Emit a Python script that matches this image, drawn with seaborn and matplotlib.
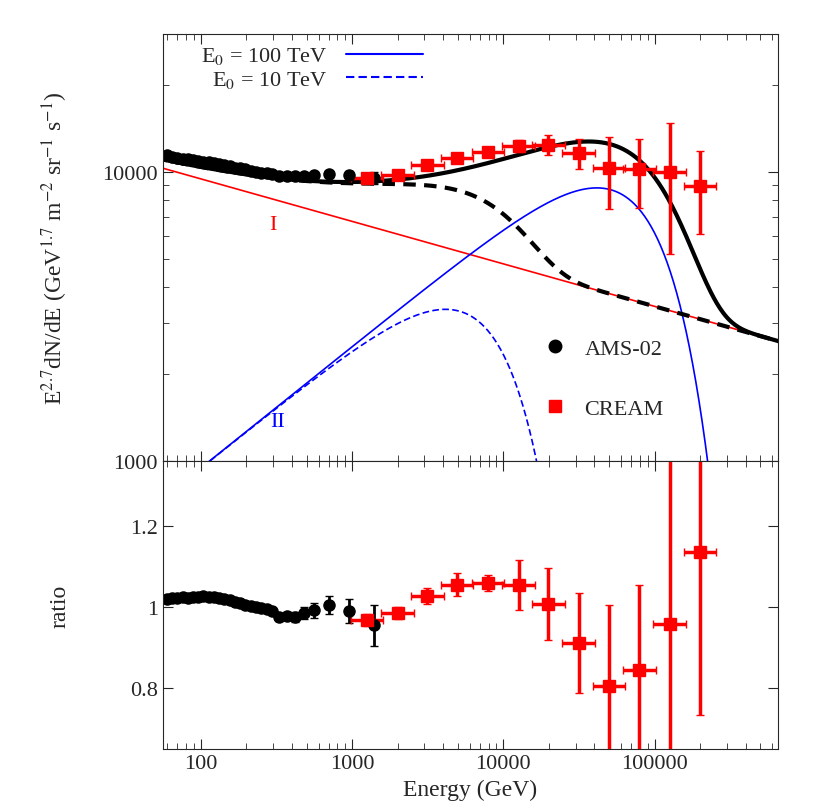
import numpy as np
import pandas as pd
import matplotlib
matplotlib.use("Agg")
import matplotlib.pyplot as plt
import seaborn as sns
from matplotlib.lines import Line2D
from matplotlib.ticker import FixedLocator, NullFormatter

# AMS-02 data (flux and ratio to model)
ams_e = [60, 65, 70, 76, 82, 89, 96, 104, 113, 122, 132, 143, 155, 168, 182, 197,
         214, 231, 251, 272, 295, 330, 370, 420, 480, 560, 700, 950, 1400]
ams_flux = [11400, 11300, 11200, 11100, 11050, 10950, 10900, 10850, 10800, 10700, 10650,
            10550, 10450, 10350, 10300, 10200, 10100, 10000, 9950, 9900, 9850, 9700,
            9700, 9650, 9700, 9750, 9800, 9750, 9550]
ams_ratio = [1.02, 1.022, 1.022, 1.024, 1.022, 1.024, 1.026, 1.028, 1.026, 1.024, 1.022,
             1.02, 1.018, 1.012, 1.01, 1.006, 1.002, 1.0, 0.998, 0.995, 0.99, 0.975,
             0.978, 0.975, 0.985, 0.992, 1.005, 0.99, 0.955]
ams_rerr = [0.0] * 20 + [0.005, 0.01, 0.01, 0.012, 0.015, 0.018, 0.022, 0.03, 0.05]

# CREAM data
cream_e = [1260, 2000, 3140, 4950, 7940, 12600, 19800, 31400, 49900, 79100, 125600, 199000]
cream_flux = [9540, 9760, 10570, 11180, 11720, 12290, 12390, 11630, 10320, 10240, 10000, 8950]
cream_ferr = [0.02, 0.02, 0.03, 0.03, 0.03, 0.05, 0.08, 0.12, 0.28, 0.27, 0.48, 0.32]
cream_ratio = [0.969, 0.985, 1.028, 1.055, 1.059, 1.055, 1.007, 0.911, 0.806, 0.845, 0.959, 1.135]
cream_rerr = [0.015, 0.015, 0.02, 0.028, 0.02, 0.062, 0.089, 0.123, 0.2, 0.21, 0.5, 0.4]

# model components
e = np.logspace(np.log10(50), np.log10(8e5), 600)
comp1 = 10300 * (e / 56) ** -0.147
norm2 = 8800 / (40000 ** 0.42 * np.exp(-0.286))


def comp2(E, ec):
    return norm2 * E ** 0.42 * np.exp(-(E / ec) ** 1.4)


c2_100 = comp2(e, 97800)
c2_10 = comp2(e, 9780)
curves = pd.DataFrame({"E": e, "I": comp1, "II100": c2_100, "II10": c2_10,
                       "tot100": comp1 + c2_100, "tot10": comp1 + c2_10})

sns.set_style("ticks")
plt.rcParams["font.family"] = ["Liberation Serif", "DejaVu Serif"]
plt.rcParams["mathtext.fontset"] = "stix"

fig = plt.figure(figsize=(8.3, 8.12), dpi=100)
ax1 = fig.add_axes([0.196, 0.431, 0.741, 0.526])
ax2 = fig.add_axes([0.196, 0.076, 0.741, 0.355], sharex=ax1)

sns.lineplot(data=curves, x="E", y="I", ax=ax1, color="red", lw=1.2)
sns.lineplot(data=curves, x="E", y="II100", ax=ax1, color="blue", lw=1.2)
sns.lineplot(data=curves, x="E", y="II10", ax=ax1, color="blue", lw=1.2, ls=(0, (4, 2)))
sns.lineplot(data=curves, x="E", y="tot100", ax=ax1, color="black", lw=3)
sns.lineplot(data=curves, x="E", y="tot10", ax=ax1, color="black", lw=3, ls=(0, (3, 2)))

ams_ferr = np.array(ams_rerr) * np.array(ams_flux)
ax1.errorbar(ams_e, ams_flux, yerr=ams_ferr, fmt="o", color="black", ms=8, capsize=3, lw=2)
cf = np.array(cream_flux)
ce = np.array(cream_e)
ax1.errorbar(ce, cf, yerr=cf * np.array(cream_ferr), xerr=[ce - ce / 1.28, ce * 1.28 - ce],
             fmt="s", color="red", ms=9, capsize=3, lw=2.5)

ax2.errorbar(ams_e, ams_ratio, yerr=ams_rerr, fmt="o", color="black", ms=8, capsize=3, lw=2)
ax2.errorbar(ce, cream_ratio, yerr=cream_rerr, xerr=[ce - ce / 1.28, ce * 1.28 - ce],
             fmt="s", color="red", ms=9, capsize=3, lw=2.5)

ax1.text(300, 6600, "I", color="red", fontsize=16, ha="center", va="center")
ax1.text(320, 1370, "II", color="blue", fontsize=16, ha="center", va="center")

for ax in (ax1, ax2):
    ax.set_xscale("log")
    ax.tick_params(which="both", direction="in", top=True, right=True, labelsize=16)
    ax.tick_params(which="major", length=7)
    ax.tick_params(which="minor", length=4)
ax1.set_yscale("log")
ax1.set_xlim(56, 6.5e5)
ax1.set_ylim(1000, 3e4)
ax1.yaxis.set_major_locator(FixedLocator([1000, 10000]))
ax1.set_yticklabels(["1000", "10000"])
ax1.yaxis.set_minor_formatter(NullFormatter())
ax1.tick_params(labelbottom=False)
ax1.set_xlabel("")
ax1.set_ylabel(r"E$^{2.7}$dN/dE (GeV$^{1.7}$ m$^{-2}$ sr$^{-1}$ s$^{-1}$)", fontsize=17)

ax2.set_ylim(0.65, 1.36)
ax2.set_yticks([0.8, 1.0, 1.2])
ax2.set_yticklabels(["0.8", "1", "1.2"])
ax2.xaxis.set_major_locator(FixedLocator([100, 1000, 10000, 100000]))
ax2.set_xticklabels(["100", "1000", "10000", "100000"])
ax2.xaxis.set_minor_formatter(NullFormatter())
ax2.set_xlabel("Energy (GeV)", fontsize=17)
ax2.set_ylabel("ratio", fontsize=17)
ax1.yaxis.set_label_coords(-0.15, 0.5)
ax2.yaxis.set_label_coords(-0.15, 0.5)

h1 = [Line2D([], [], color="blue", lw=1.5), Line2D([], [], color="blue", lw=1.5, ls=(0, (4, 2)))]
leg1 = ax1.legend(h1, [r"E$_0$ = 100 TeV", r"E$_0$ = 10 TeV"], loc="upper left",
                  bbox_to_anchor=(0.03, 1.02), frameon=False, markerfirst=False,
                  fontsize=16, handlelength=3.5, labelspacing=0.1)
ax1.add_artist(leg1)
h2 = [Line2D([], [], marker="o", color="black", ls="", ms=9),
      Line2D([], [], marker="s", color="red", ls="", ms=9)]
ax1.legend(h2, ["AMS-02", "CREAM"], loc="upper left", bbox_to_anchor=(0.57, 0.335),
           frameon=False, fontsize=16, labelspacing=1.8, handletextpad=0.3)

fig.savefig("out.png", dpi=100)
